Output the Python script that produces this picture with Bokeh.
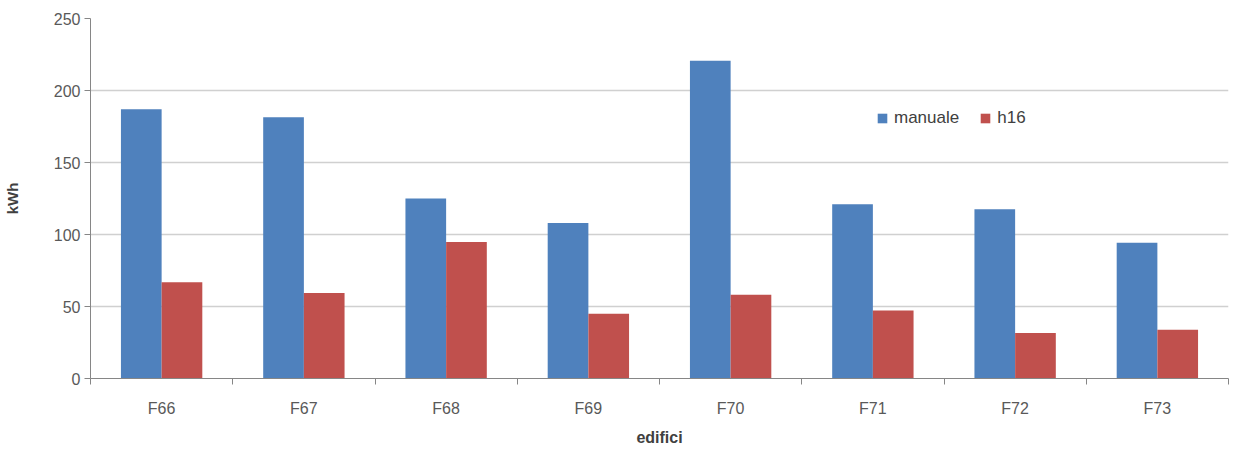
from bokeh.plotting import figure
from bokeh.models import Range1d, FixedTicker, Legend, LegendItem, ColumnDataSource
from bokeh.embed import file_html
from bokeh.resources import INLINE

categories = ["F66", "F67", "F68", "F69", "F70", "F71", "F72", "F73"]
manuale = [187, 181.5, 125, 108, 220.7, 121, 117.5, 94.2]
h16 = [66.8, 59.4, 94.8, 44.9, 58.1, 47.2, 31.6, 33.9]
y_ticks = [0, 50, 100, 150, 200, 250]

FONT = "Liberation Sans"
n = len(categories)
centers = [i + 0.5 for i in range(n)]
bw = 0.286

p = figure(frame_width=1138, frame_height=360, width=1223, height=440,
           output_backend="svg", toolbar_location=None,
           x_range=Range1d(0, n), y_range=Range1d(0, 250),
           min_border_left=84, min_border_top=18, min_border_right=1,
           min_border_bottom=62)
p.outline_line_color = None
p.background_fill_color = "white"
p.border_fill_color = "white"

src_m = ColumnDataSource(dict(x=[c - bw / 2 for c in centers], top=manuale))
src_h = ColumnDataSource(dict(x=[c + bw / 2 for c in centers], top=h16))
r1 = p.vbar(x="x", top="top", width=bw, source=src_m, fill_color="#4F81BD", line_color=None)
r2 = p.vbar(x="x", top="top", width=bw, source=src_h, fill_color="#C0504D", line_color=None)

# x axis
p.xaxis.ticker = FixedTicker(ticks=centers, minor_ticks=list(range(n + 1)))
p.xaxis.major_label_overrides = {c: lab for c, lab in zip(centers, categories)}
p.xaxis.major_tick_line_color = None
p.xaxis.minor_tick_line_color = "#868686"
p.xaxis.minor_tick_in = 0
p.xaxis.minor_tick_out = 6
p.xaxis.axis_line_color = "#868686"
p.xaxis.major_label_standoff = 15
p.xaxis.major_label_text_font = FONT
p.xaxis.major_label_text_font_size = "16px"
p.xaxis.major_label_text_color = "#595959"
p.xaxis.axis_label = "edifici"
p.xaxis.axis_label_text_font = FONT
p.xaxis.axis_label_text_font_size = "16px"
p.xaxis.axis_label_text_font_style = "bold"
p.xaxis.axis_label_text_color = "#404040"
p.xaxis.axis_label_standoff = 9

# y axis
p.yaxis.ticker = FixedTicker(ticks=y_ticks)
p.yaxis.major_tick_in = 0
p.yaxis.major_tick_out = 6
p.yaxis.major_tick_line_color = "#868686"
p.yaxis.minor_tick_line_color = None
p.yaxis.axis_line_color = "#868686"
p.yaxis.major_label_standoff = 4
p.yaxis.major_label_text_font = FONT
p.yaxis.major_label_text_font_size = "16px"
p.yaxis.major_label_text_color = "#595959"
p.yaxis.axis_label = "kWh"
p.yaxis.axis_label_text_font = FONT
p.yaxis.axis_label_text_font_size = "15px"
p.yaxis.axis_label_text_font_style = "bold"
p.yaxis.axis_label_text_color = "#404040"
p.yaxis.axis_label_standoff = 30

p.xgrid.grid_line_color = None
p.ygrid.grid_line_color = "#d0d0d0"
p.ygrid.grid_line_width = 1.5

legend = Legend(items=[LegendItem(label="manuale", renderers=[r1]),
                       LegendItem(label="h16", renderers=[r2])],
                orientation="horizontal", location=(786, 250))
legend.border_line_color = None
legend.background_fill_alpha = 0
legend.label_text_font = FONT
legend.label_text_font_size = "17px"
legend.label_text_color = "#404040"
legend.glyph_width = 12
legend.glyph_height = 12
legend.label_standoff = 6
legend.spacing = 20
legend.padding = 0
legend.margin = 0
p.add_layout(legend, "center")

open("out.html", "w").write(file_html(p, INLINE))
